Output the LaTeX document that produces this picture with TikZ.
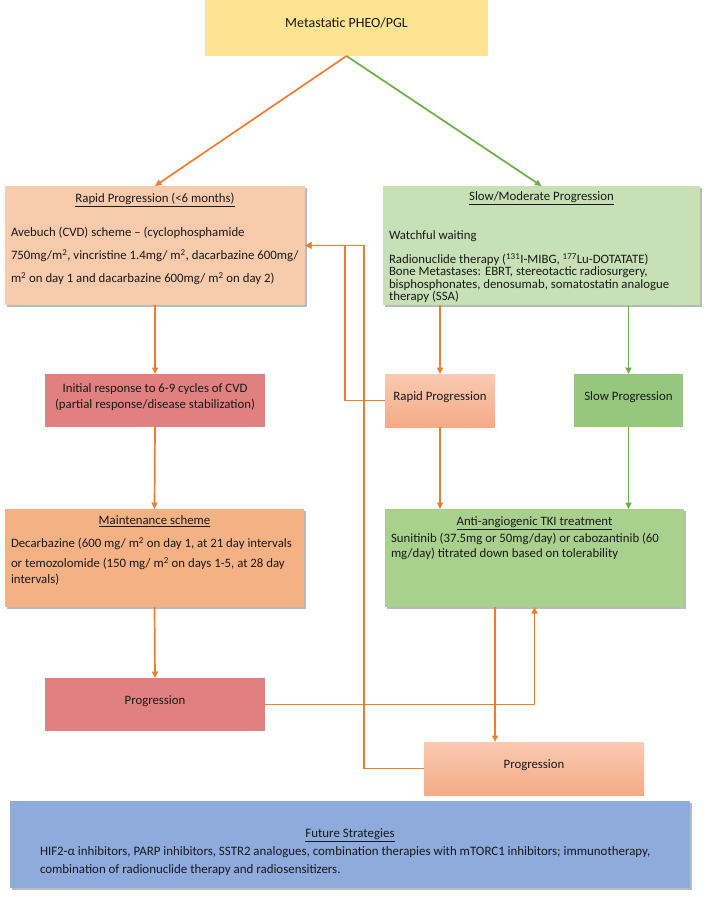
\documentclass[tikz,border=0pt]{standalone}
\usepackage{fontspec}
\setmainfont{Carlito}
\usetikzlibrary{arrows.meta,shadows}

\definecolor{metaYellow}{RGB}{252,228,146}
\definecolor{rapidPeach}{RGB}{248,203,173}
\definecolor{slowGreen}{RGB}{199,224,181}
\definecolor{cvdRed}{RGB}{224,129,127}
\definecolor{maintOrange}{RGB}{244,178,132}
\definecolor{tkiGreen}{RGB}{169,209,142}
\definecolor{slowprogGreen}{RGB}{150,199,124}
\definecolor{salmonTop}{RGB}{249,203,178}
\definecolor{salmonBot}{RGB}{244,170,135}
\definecolor{futureBlue}{RGB}{143,170,220}
\definecolor{lineOrange}{RGB}{237,125,49}
\definecolor{lineGreen}{RGB}{112,173,71}

\tikzset{
    box/.style={inner xsep=6pt, inner ysep=0pt, outer sep=0pt, anchor=north west, text=black!90},
    cbox/.style={inner sep=2pt, outer sep=0pt, align=center, text=black!90,
        font=\fontsize{12.8}{16}\selectfont},
    shadowed/.style={drop shadow={shadow xshift=1.5pt, shadow yshift=-2pt, fill=black!60, opacity=.45}},
    oline/.style={draw=lineOrange, line width=1.7pt},
    gline/.style={draw=lineGreen, line width=1.7pt},
    tip/.style={-{Triangle[length=6.5pt,width=6pt]}}
}

\begin{document}
\begin{tikzpicture}[x=1pt, y=-1pt]
            \useasboundingbox (0,0) rectangle (707,897);

            \node[cbox, fill=metaYellow, minimum width=283pt, minimum height=56pt,
                font=\fontsize{14}{16}\selectfont] (meta) at (346.5,28) {Metastatic PHEO/PGL\\[-6pt]};

            \node[box, fill=rapidPeach, shadowed, font=\fontsize{12.8}{23}\selectfont] (rapid) at (5,186)
                {\parbox[c][119pt][t]{288pt}{\vspace*{7pt}
                {\centering\underline{Rapid Progression (<6 months)}\par}
                \vspace{11pt}\raggedright
                Avebuch (CVD) scheme -- (cyclophosphamide\\
                750mg/m\textsuperscript{2}, vincristine 1.4mg/ m\textsuperscript{2}, dacarbazine 600mg/\\
                m\textsuperscript{2} on day 1 and dacarbazine 600mg/ m\textsuperscript{2} on day 2)}};

            \node[box, fill=slowGreen, shadowed, font=\fontsize{12.8}{12.5}\selectfont] (slow) at (383,186)
                {\parbox[c][119pt][t]{305pt}{\vspace*{6pt}
                {\centering\underline{Slow/Moderate Progression}\par}
                \vspace{25pt}\raggedright
                Watchful waiting\\[11pt]
                Radionuclide therapy (\textsuperscript{131}I-MIBG, \textsuperscript{177}Lu-DOTATATE)\\
                Bone Metastases: EBRT, stereotactic radiosurgery,\\
                bisphosphonates, denosumab, somatostatin analogue\\
                therapy (SSA)}};

            \node[cbox, fill=cvdRed, minimum width=220pt, minimum height=53pt] (cvd) at (155,400.5)
                {Initial response to 6-9 cycles of CVD\\(partial response/disease stabilization)\\[-7pt]};
            \node[cbox, top color=salmonTop, bottom color=salmonBot, minimum width=110pt,
                minimum height=53pt] (rprog) at (440,400.5) {Rapid Progression\\[-7pt]};
            \node[cbox, fill=slowprogGreen, minimum width=109pt, minimum height=53pt] (sprog) at (628.5,400.5)
                {Slow Progression\\[-7pt]};

            \node[box, fill=maintOrange, shadowed, font=\fontsize{12.8}{18}\selectfont] (maint) at (5,509)
                {\parbox[c][98pt][t]{287pt}{\vspace*{7pt}
                {\centering\underline{Maintenance scheme}\par}
                \vspace{5pt}\raggedright
                Decarbazine (600 mg/ m\textsuperscript{2} on day 1, at 21 day intervals\\[2pt]
                or temozolomide (150 mg/ m\textsuperscript{2} on days 1-5, at 28 day\\[-2pt]
                intervals)}};

            \node[box, fill=tkiGreen, shadowed, font=\fontsize{12.8}{15.5}\selectfont] (tki) at (385,509)
                {\parbox[c][98pt][t]{287pt}{\vspace*{8pt}
                {\centering\underline{Anti-angiogenic TKI treatment}\par}
                \vspace{1pt}\raggedright
                Sunitinib (37.5mg or 50mg/day) or cabozantinib (60\\
                mg/day) titrated down based on tolerability}};

            \node[cbox, fill=cvdRed, minimum width=220pt, minimum height=53pt] (prog1) at (155,704.5)
                {Progression\\[-7pt]};
            \node[cbox, top color=salmonTop, bottom color=salmonBot, minimum width=220pt,
                minimum height=53pt] (prog2) at (534,768.5) {Progression\\[-7pt]};

            \node[box, inner xsep=30pt, fill=futureBlue, shadowed, font=\fontsize{12.9}{18}\selectfont] (future) at (10,801)
                {\parbox[c][87pt][t]{620pt}{\vspace*{28pt}
                {\centering\underline{Future Strategies}\par}
                \raggedright
                HIF2-α inhibitors, PARP inhibitors, SSTR2 analogues, combination therapies with mTORC1 inhibitors; immunotherapy,\\
                combination of radionuclide therapy and radiosensitizers.}};

            \coordinate (backA) at (345,0);
            \coordinate (backB) at (364,0);
            \coordinate (down) at (495,0);

            \draw[oline,tip] (meta.south) -- (rapid.north);
            \draw[gline,tip] (meta.south) -- (slow.north);
            \draw[oline,tip] (rapid.south) -- (cvd.north);
            \draw[oline,tip] (cvd.south) -- (maint.north);
            \draw[oline,tip] (maint.south) -- (prog1.north);
            \draw[oline,tip] (slow.south -| rprog.north) -- (rprog.north);
            \draw[gline,tip] (slow.south -| sprog.north) -- (sprog.north);
            \draw[oline,tip] (rprog.south) -- (rprog.south |- tki.north);
            \draw[gline,tip] (sprog.south) -- (sprog.south |- tki.north);
            \draw[oline,tip] (rprog.west) -| (backA |- rapid.east) -- (rapid.east);
            \draw[oline,tip] (prog2.west) -| (backB |- rapid.east) -- (rapid.east);
            \draw[oline,tip] (prog1.east) -| (tki.south);
            \draw[oline,tip] (down |- tki.south) -- (down |- prog2.north);
        \end{tikzpicture}
\end{document}
